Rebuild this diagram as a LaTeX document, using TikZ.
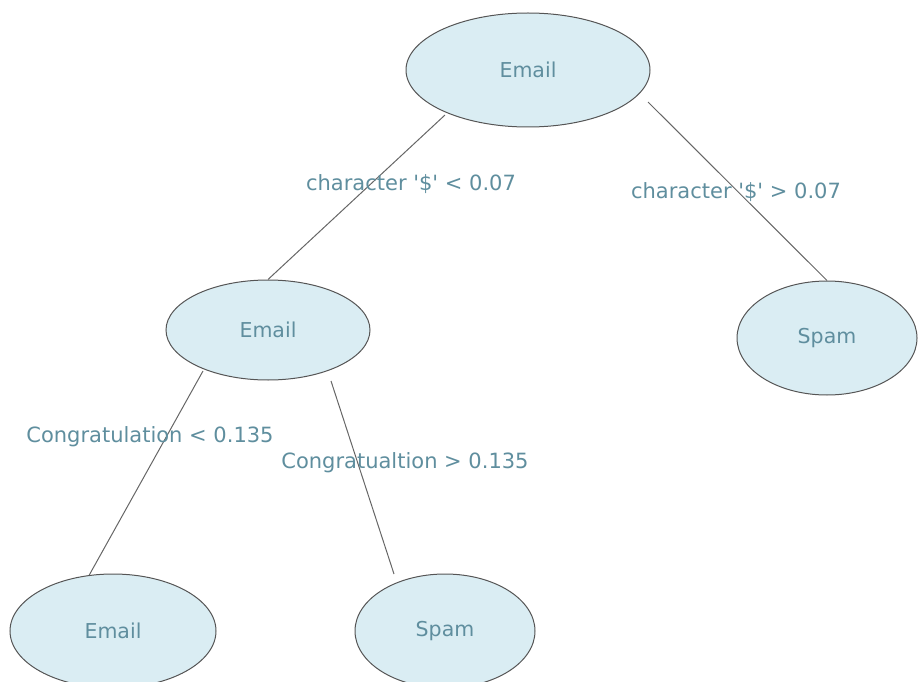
\documentclass[tikz,border=0pt]{standalone}
\usepackage{fontspec}
\setmainfont{DejaVu Sans}[Ligatures=TeXOff]
\usetikzlibrary{shapes.geometric,calc}
\definecolor{nodefill}{HTML}{DAEDF3}
\definecolor{txtcol}{HTML}{5F8E9E}
\definecolor{edgecol}{HTML}{555555}
\definecolor{linecol}{HTML}{666666}
\tikzset{
  leaf/.style={ellipse, draw=edgecol, line width=1pt, fill=nodefill, inner sep=0pt,
    text=txtcol, font=\fontsize{20.5}{24}\selectfont},
  lbl/.style={text=txtcol, font=\fontsize{21}{24}\selectfont, inner sep=0pt},
  conn/.style={draw=linecol, line width=1pt}
}
\begin{document}
\begin{tikzpicture}[x=1pt,y=-1pt]
\useasboundingbox (0,0) rectangle (918,682);
\clip (0,0) rectangle (918,682);
\node[leaf, minimum width=244pt, minimum height=114pt] (root) at (528,70) {Email};
\node[leaf, minimum width=204pt, minimum height=100pt] (mid) at (268,330) {Email};
\node[leaf, minimum width=180pt, minimum height=114pt] (spamr) at (827,338) {Spam};
\node[leaf, minimum width=206pt, minimum height=114pt] (bemail) at (113,631) {Email};
\node[leaf, minimum width=180pt, minimum height=114pt] (bspam) at (445,631) {Spam};
\draw[conn] ($(root.center)+(-83,45)$) -- (mid.north);
\draw[conn] ($(root.center)+(120,32)$) -- (spamr.north);
\draw[conn] ($(mid.center)+(-65,41)$) -- (bemail.113);
\draw[conn] ($(mid.center)+(63,51)$) -- ($(bspam.center)+(-51,-57)$);
\node[lbl] (l1) at (411,184) {character '\$' < 0.07};
\node[lbl] (l2) at (736,192) {character '\$' > 0.07};
\node[lbl] (l3) at (150,437) {Congratulation < 0.135};
\node[lbl] (l4) at (405,463) {Congratualtion > 0.135};
\end{tikzpicture}
\end{document}
